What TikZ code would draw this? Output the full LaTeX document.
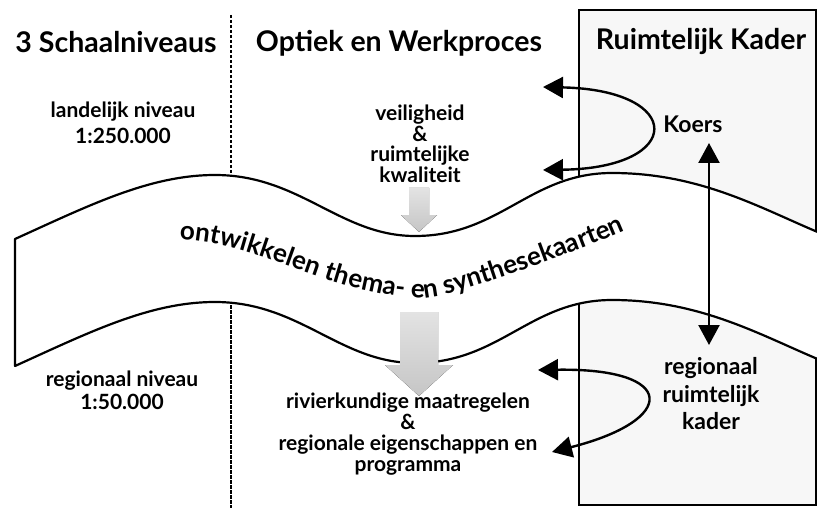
\documentclass[tikz,border=0pt]{standalone}
\usepackage{fontspec}
\setmainfont{Lato}
\usetikzlibrary{arrows.meta, decorations.text}
\tikzstyle{title} = [font=\bfseries\fontsize{28.5}{32}\selectfont, inner sep=0pt]
\tikzstyle{level} = [font=\bfseries\fontsize{21}{26}\selectfont, align=center, inner sep=0pt]
\tikzstyle{focus} = [font=\bfseries\fontsize{21}{20.5}\selectfont, align=center, inner sep=0pt]
\tikzstyle{kader} = [draw=black, line width=1.8pt, fill=gray!6]
\tikzstyle{divider} = [line width=1.3pt, dash pattern=on 3.5pt off 1.5pt]
\tikzstyle{band} = [draw=black, line width=2.2pt, fill=white, line join=round]
\tikzstyle{push} = [top color=gray!22, bottom color=gray!45, draw=none]
\tikzstyle{link} = [line width=2.4pt, {Triangle[length=20pt,width=21pt]}-{Triangle[length=20pt,width=21pt]}]
\begin{document}
\begin{tikzpicture}[x=1pt, y=-1pt]
				\useasboundingbox (0,0) rectangle (817,508);
				\draw [kader] (579,10) rectangle (816,505);
				\draw [divider] (231,15) -- (231,508);
				\draw [band] (15,239) .. controls (90,205) and (150,175) .. (215,175)
					.. controls (300,175) and (340,236) .. (415,236)
					.. controls (500,236) and (530,173) .. (612,173)
					.. controls (700,173) and (760,208) .. (820,233) -- (820,360)
					.. controls (760,335) and (700,300) .. (612,300)
					.. controls (530,300) and (500,363) .. (415,363)
					.. controls (340,363) and (300,302) .. (215,302)
					.. controls (150,302) and (90,332) .. (15,366) -- cycle;
				\path [decorate, decoration={text along path, text align=center,
					text={|\bfseries\fontsize{26}{30}\selectfont|ontwikkelen thema- en synthesekaarten}}]
					(181,240) .. controls (260,242) and (330,296) .. (425,298)
					.. controls (455,297) and (580,250) .. (624,231);

				\node (schaal) [title] at (116,42) {3 Schaalniveaus};
				\node (optiek) [title] at (399,43) {Optiek en Werkproces};
				\node (kader) [title] at (701,41) {Ruimtelijk Kader};
				\node (landelijk) [level] at (123,123) {landelijk niveau\\1:250.000};
				\node (regionaal) [level, font=\bfseries\fontsize{21}{23}\selectfont] at (122,390) {regionaal niveau\\1:50.000};
				\node (veilig) [focus] at (420,144) {veiligheid\\\&\\ruimtelijke\\kwaliteit};
				\node (rivier) [focus, font=\bfseries\fontsize{21}{21}\selectfont] at (408,434) {rivierkundige maatregelen\\\&\\regionale eigenschappen en\\programma};
				\node (koers) [level, font=\bfseries\fontsize{23}{26}\selectfont] at (693,124) {Koers};
				\node (rrk) [level, font=\bfseries\fontsize{23}{27.5}\selectfont] at (711,394) {regionaal\\ruimtelijk\\kader};

				%pijlen
				\fill [push] (409,188) -- (429,188) -- (429,215) -- (437,215) -- (419,232) -- (401,215) -- (409,215) -- cycle;
				\fill [push] (400,312) -- (438,312) -- (438,365) -- (453,365) -- (419,396) -- (385,365) -- (400,365) -- cycle;
				\coordinate (koersA) at (543,87);
				\coordinate (koersB) at (543,170);
				\coordinate (koersIn) at (709,143);
				\coordinate (rrkIn) at (709,345);
				\coordinate (rrkA) at (538,370);
				\coordinate (rrkB) at (552,452);
				\draw [link] (koersA) .. controls (685,90) and (685,168) .. (koersB);
				\draw [link] (koersIn) -- (rrkIn);
				\draw [link] (rrkA) .. controls (678,368) and (678,420) .. (rrkB);
\end{tikzpicture}
\end{document}
